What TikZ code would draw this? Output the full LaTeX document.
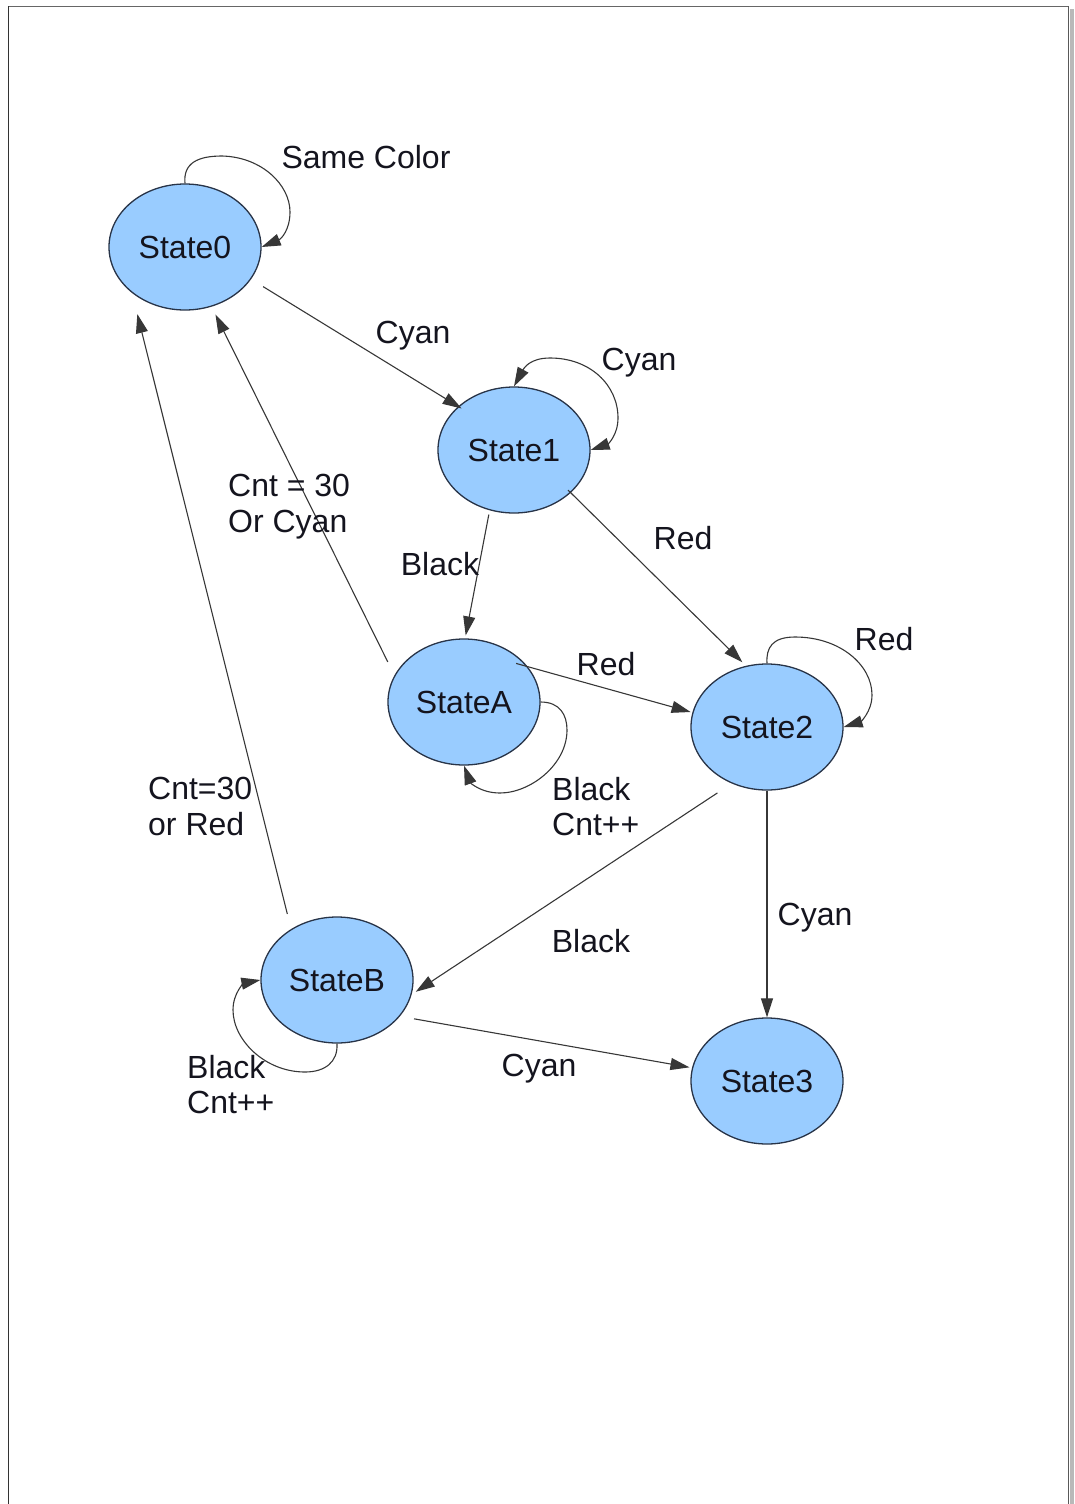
\documentclass[tikz,border=0pt]{standalone}
\usepackage{fontspec}
\setmainfont{Liberation Sans}
\usetikzlibrary{shapes.geometric,arrows.meta}
\definecolor{statefill}{RGB}{153,204,255}
\definecolor{stateline}{RGB}{40,52,72}
\definecolor{wire}{RGB}{55,55,55}
\definecolor{ink}{RGB}{20,20,30}
\begin{document}
\begin{tikzpicture}[x=1pt,y=-1pt,
  state/.style={ellipse, draw=stateline, line width=1.3pt, fill=statefill,
    minimum width=152pt, minimum height=126pt, inner sep=0pt, text=ink,
    font=\fontsize{32}{36}\selectfont},
  trans/.style={draw=wire, line width=1.1pt, -{Triangle[length=19pt,width=12pt]}},
  bothtrans/.style={draw=wire, line width=1.1pt, {Triangle[length=19pt,width=12pt]}-{Triangle[length=19pt,width=12pt]}},
  lbl/.style={inner sep=0pt, text=ink, font=\fontsize{32}{35.5}\selectfont},
  ]
\useasboundingbox (0,0) rectangle (1074,1504);

% page frame with its shadow on the right
\fill[gray!55] (1069.5,9) rectangle (1074,1504);
\draw[gray!80!black, line width=1.2pt] (8.5,6.5) -- (1068.5,6.5);
\draw[black!80, line width=1.3pt] (8.5,1504) -- (8.5,6.5);
\draw[gray!70!black, line width=1.3pt] (1068.5,6.5) -- (1068.5,1504);

% states
\node[state] (s0) at (185,247) {State0};
\node[state] (s1) at (514,450) {State1};
\node[state] (sA) at (464,702) {StateA};
\node[state] (s2) at (767,727) {State2};
\node[state] (sB) at (337,980) {StateB};
\node[state] (s3) at (767,1081) {State3};

% transitions between states
\draw[trans, shorten <=14.1pt, shorten >=-4pt] (s0.-26.7) -- (s1.142.4);
\draw[trans, shorten <=4.3pt, shorten >=3pt] (s1.-112) -- (sA.89.6);
\draw[trans, shorten <=-3.9pt, shorten >=5pt] (s1.-37.5) -- (s2.109.5);
\draw[trans, shorten <=14.9pt, shorten >=8.7pt] (sA.159.7) -- (s0.-66.2);
\draw[trans, shorten <=-12.1pt, shorten >=1.8pt] (sA.29.7) -- (s2.169.7);
\draw[trans, shorten <=17.1pt, shorten >=4.9pt] (s2.-122.8) -- (sB.-11.3);
\draw[trans] (s2.south) -- (s3.north);
\draw[trans, shorten <=15.5pt, shorten >=21.7pt] (sB.132.8) -- (s0.-139.8);
\draw[trans, shorten <=14.3pt, shorten >=2.6pt] (sB.-30.5) -- (s3.170.4);

% self loops
\draw[trans] (s0.north) .. controls (183,163) and (198,156) .. (222,156)
  .. controls (262,157) and (290,185) .. (290,212)
  .. controls (290,230) and (281,239) .. (s0.east);
\draw[bothtrans] (s1.north) .. controls (524,368) and (530,358) .. (550,358)
  .. controls (590,358) and (618,385) .. (618,418)
  .. controls (618,435) and (608,444) .. (s1.east);
\draw[trans] (s2.north) .. controls (766,648) and (772,637) .. (795,637)
  .. controls (840,637) and (872,665) .. (872,695)
  .. controls (872,712) and (860,722) .. (s2.east);
\draw[trans] (sA.east) .. controls (560,702) and (567,715) .. (567,730)
  .. controls (567,765) and (530,793) .. (500,793)
  .. controls (480,793) and (470,782) .. (sA.south);
\draw[trans] (sB.south) .. controls (338,1062) and (325,1072) .. (305,1072)
  .. controls (265,1072) and (233,1040) .. (233,1010)
  .. controls (233,992) and (245,983) .. (sB.west);

% transition labels
\node[lbl] (lsame) at (366,157) {Same Color};
\node[lbl] (l01) at (413,336) {Cyan};
\node[lbl] (l11) at (639,363) {Cyan};
\node[lbl, align=left, anchor=north west] (lA0) at (228,474) {Cnt = 30\\Or Cyan};
\node[lbl] (l1A) at (440,564) {Black};
\node[lbl] (l12) at (683,538) {Red};
\node[lbl] (lA2) at (606,664) {Red};
\node[lbl] (l22) at (884,639) {Red};
\node[lbl, align=left, anchor=north west] (lAA) at (552,777) {Black\\Cnt++};
\node[lbl, align=left, anchor=north west] (lB0) at (148,777) {Cnt=30\\or Red};
\node[lbl] (l2B) at (591,941) {Black};
\node[lbl] (l23) at (815,918) {Cyan};
\node[lbl, align=left, anchor=north west] (lBB) at (187,1055) {Black\\Cnt++};
\node[lbl] (lB3) at (539,1069) {Cyan};
\end{tikzpicture}
\end{document}
